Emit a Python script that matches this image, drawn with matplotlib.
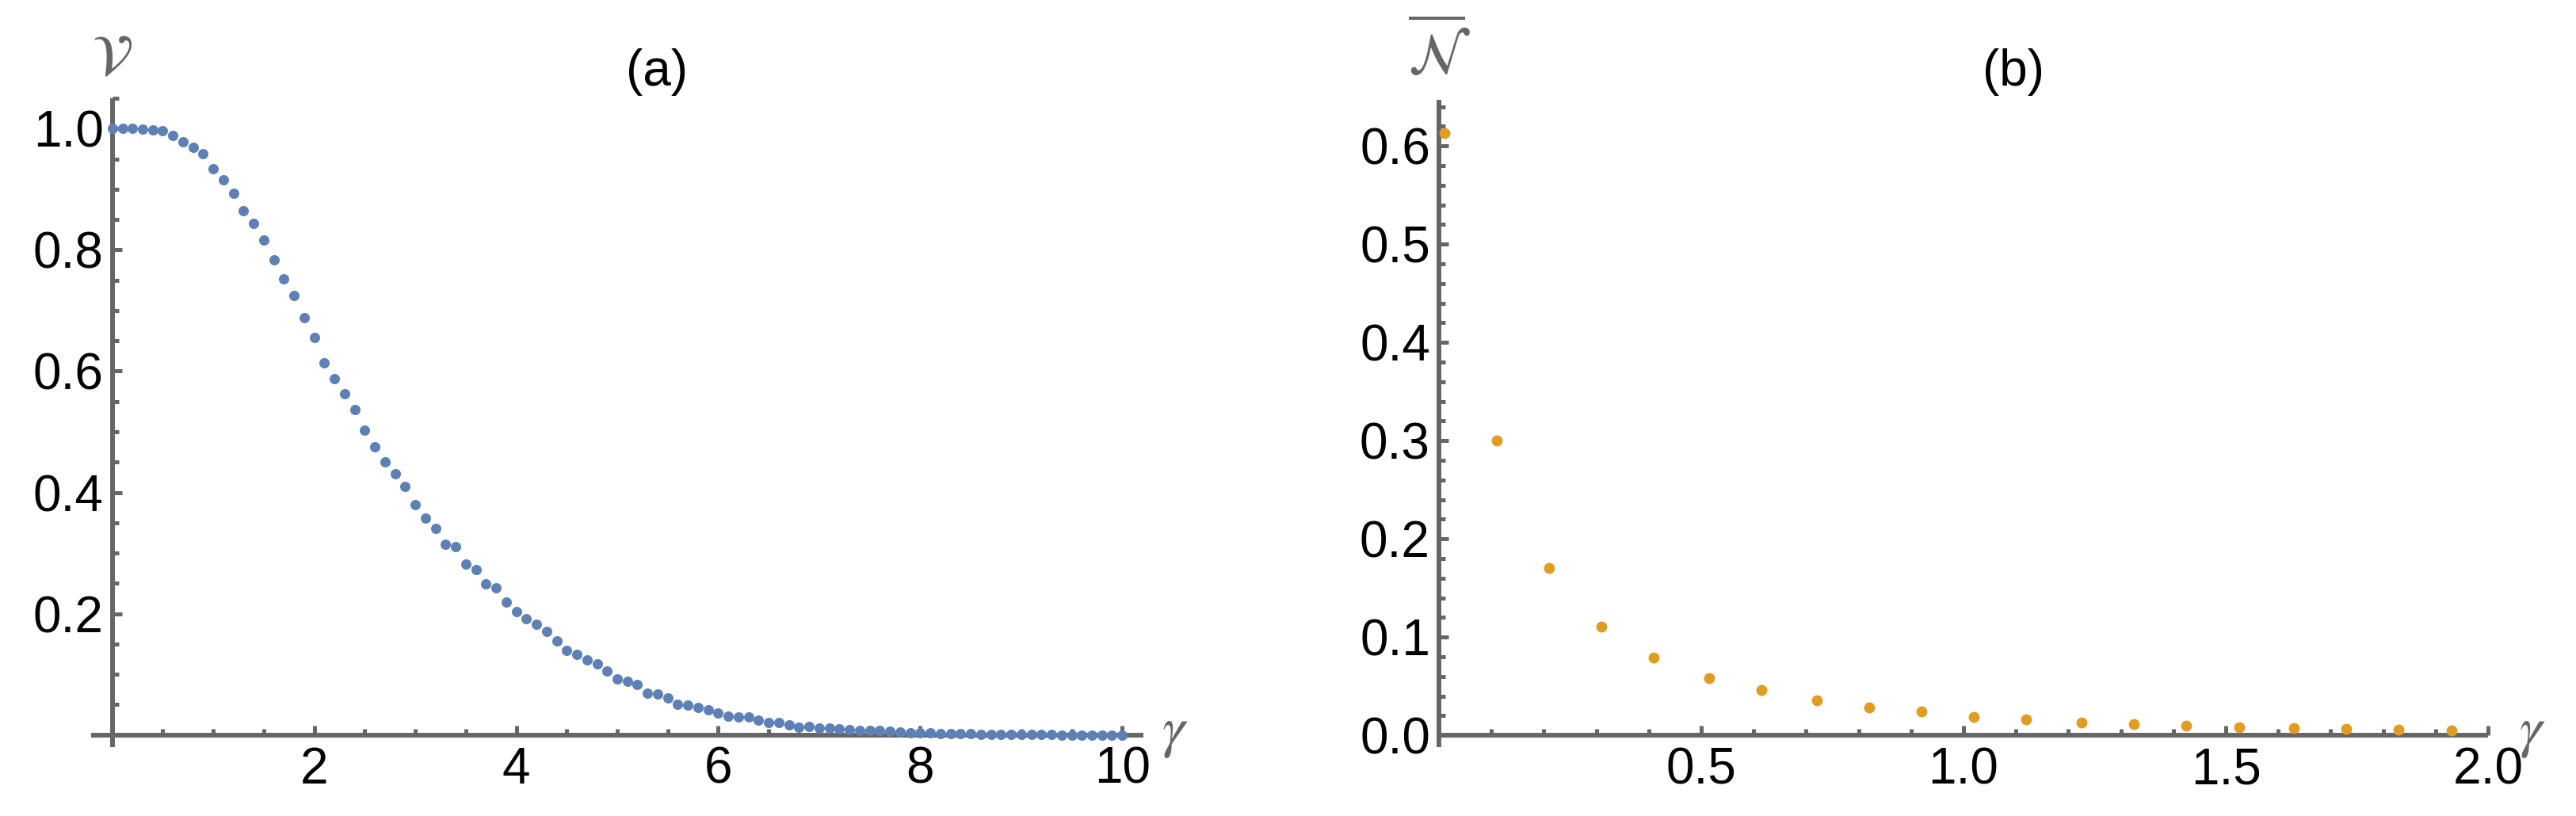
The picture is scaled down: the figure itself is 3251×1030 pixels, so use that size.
import matplotlib
matplotlib.use("Agg")
import matplotlib.pyplot as plt
from matplotlib.ticker import MultipleLocator, FixedLocator

plt.rcParams['font.family'] = ['Liberation Sans', 'DejaVu Sans']
plt.rcParams['mathtext.fontset'] = 'stix'

# panel (a): visibility V vs gamma
gamma_a = [0.0, 0.1, 0.2, 0.3, 0.4, 0.5, 0.6, 0.7, 0.8, 0.9,
           1.0, 1.1, 1.2, 1.3, 1.4, 1.5, 1.6, 1.7, 1.8, 1.9,
           2.0, 2.1, 2.2, 2.3, 2.4, 2.5, 2.6, 2.7, 2.8, 2.9,
           3.0, 3.1, 3.2, 3.3, 3.4, 3.5, 3.6, 3.7, 3.8, 3.9,
           4.0, 4.1, 4.2, 4.3, 4.4, 4.5, 4.6, 4.7, 4.8, 4.9,
           5.0, 5.1, 5.2, 5.3, 5.4, 5.5, 5.6, 5.7, 5.8, 5.9,
           6.0, 6.1, 6.2, 6.3, 6.4, 6.5, 6.6, 6.7, 6.8, 6.9,
           7.0, 7.1, 7.2, 7.3, 7.4, 7.5, 7.6, 7.7, 7.8, 7.9,
           8.0, 8.1, 8.2, 8.3, 8.4, 8.5, 8.6, 8.7, 8.8, 8.9,
           9.0, 9.1, 9.2, 9.3, 9.4, 9.5, 9.6, 9.7, 9.8, 9.9, 10.0]
visibility = [1.000, 1.000, 1.000, 0.999, 0.998, 0.996, 0.988, 0.978, 0.969, 0.958,
              0.934, 0.916, 0.893, 0.864, 0.843, 0.816, 0.783, 0.752, 0.725, 0.688,
              0.656, 0.614, 0.588, 0.563, 0.537, 0.503, 0.475, 0.450, 0.431, 0.410,
              0.380, 0.358, 0.341, 0.315, 0.310, 0.282, 0.273, 0.249, 0.243, 0.219,
              0.204, 0.192, 0.183, 0.171, 0.155, 0.140, 0.133, 0.124, 0.117, 0.105,
              0.092, 0.089, 0.083, 0.069, 0.068, 0.061, 0.051, 0.049, 0.045, 0.042,
              0.036, 0.031, 0.029, 0.029, 0.024, 0.020, 0.020, 0.016, 0.013, 0.014,
              0.012, 0.011, 0.010, 0.009, 0.008, 0.008, 0.007, 0.006, 0.005, 0.004,
              0.003, 0.003, 0.002, 0.002, 0.002, 0.002, 0.001, 0.001, 0.001, 0.001,
              0.001, 0.001, 0.0005, 0.0005, 0.0, 0.0, 0.0, 0.0, 0.0, 0.0, 0.0]

# panel (b): N-bar vs gamma
gamma_b = [0.01, 0.11, 0.21, 0.31, 0.41, 0.515, 0.615, 0.72, 0.82, 0.92,
           1.02, 1.12, 1.225, 1.325, 1.425, 1.525, 1.63, 1.73, 1.83, 1.93]
nbar = [0.613, 0.300, 0.170, 0.111, 0.079, 0.058, 0.046, 0.0355, 0.028, 0.024,
        0.019, 0.016, 0.013, 0.011, 0.0097, 0.008, 0.0075, 0.0065, 0.006, 0.005]

yticks_a = [0.2, 0.4, 0.6, 0.8, 1.0]
xticks_a = [2, 4, 6, 8, 10]
yticks_b = [0.0, 0.1, 0.2, 0.3, 0.4, 0.5, 0.6]
xticks_b = [0.5, 1.0, 1.5, 2.0]

blue = '#5E81B5'
orange = '#E19C24'
gray = '#666666'

W, H = 3251, 1030
fig = plt.figure(figsize=(W / 100, H / 100), dpi=100)
ax1 = fig.add_axes([115 / W, 87 / H, 1328 / W, 819 / H])
ax2 = fig.add_axes([1816 / W, 87 / H, 1324 / W, 817 / H])


def style(ax):
    for s in ['top', 'right']:
        ax.spines[s].set_visible(False)
    for s in ['left', 'bottom']:
        ax.spines[s].set_position(('data', 0))
        ax.spines[s].set_color(gray)
        ax.spines[s].set_linewidth(4.3)
        ax.spines[s].set_capstyle('butt')
    ax.tick_params(which='both', direction='in', color=gray, width=3.6,
                   labelsize=46, labelcolor='black')
    ax.tick_params(which='major', length=8.6)
    ax.tick_params(which='minor', length=5.5)
    ax.tick_params(axis='x', which='both', pad=10)
    ax.tick_params(axis='y', which='both', pad=8)
    ax.patch.set_visible(False)


style(ax1)
ax1.scatter(gamma_a, visibility, s=9.4 ** 2, color=blue, lw=0, zorder=5, clip_on=False)
ax1.set_xlim(-0.21, 10.21)
ax1.set_ylim(-0.02, 1.05)
ax1.xaxis.set_major_locator(FixedLocator(xticks_a))
ax1.yaxis.set_major_locator(FixedLocator(yticks_a))
ax1.xaxis.set_minor_locator(MultipleLocator(0.5))
ax1.yaxis.set_minor_locator(MultipleLocator(0.05))
ax1.set_xticklabels([str(t) for t in xticks_a])
ax1.set_yticklabels(['%.1f' % t for t in yticks_a])

style(ax2)
ax2.scatter(gamma_b, nbar, s=10 ** 2, color=orange, lw=0, zorder=5, clip_on=False)
ax2.set_xlim(0, 2.0)
ax2.set_ylim(-0.012, 0.647)
ax2.xaxis.set_major_locator(FixedLocator(xticks_b))
ax2.yaxis.set_major_locator(FixedLocator(yticks_b))
ax2.xaxis.set_minor_locator(MultipleLocator(0.1))
ax2.yaxis.set_minor_locator(MultipleLocator(0.02))
ax2.set_xticklabels(['%.1f' % t for t in xticks_b])
ax2.set_yticklabels(['%.1f' % t for t in yticks_b])

# axis labels and panel titles
fig.text(142 / W, 1 - 93 / H, r'$\mathcal{V}$', color=gray, fontsize=52,
         ha='center', va='baseline')
fig.text(1816 / W, 1 - 93 / H, r'$\overline{\mathcal{N}}$', color=gray, fontsize=52,
         ha='center', va='baseline')
fig.text(1483 / W, 1 - 942 / H, r'$\gamma$', color=gray, fontsize=52,
         ha='center', va='baseline')
fig.text(3196 / W, 1 - 942 / H, r'$\gamma$', color=gray, fontsize=52,
         ha='center', va='baseline')
fig.text(829 / W, 1 - 91 / H, '(a)', fontsize=46, ha='center', va='center')
fig.text(2541 / W, 1 - 91 / H, '(b)', fontsize=46, ha='center', va='center')

fig.savefig('out.png', dpi=100)
